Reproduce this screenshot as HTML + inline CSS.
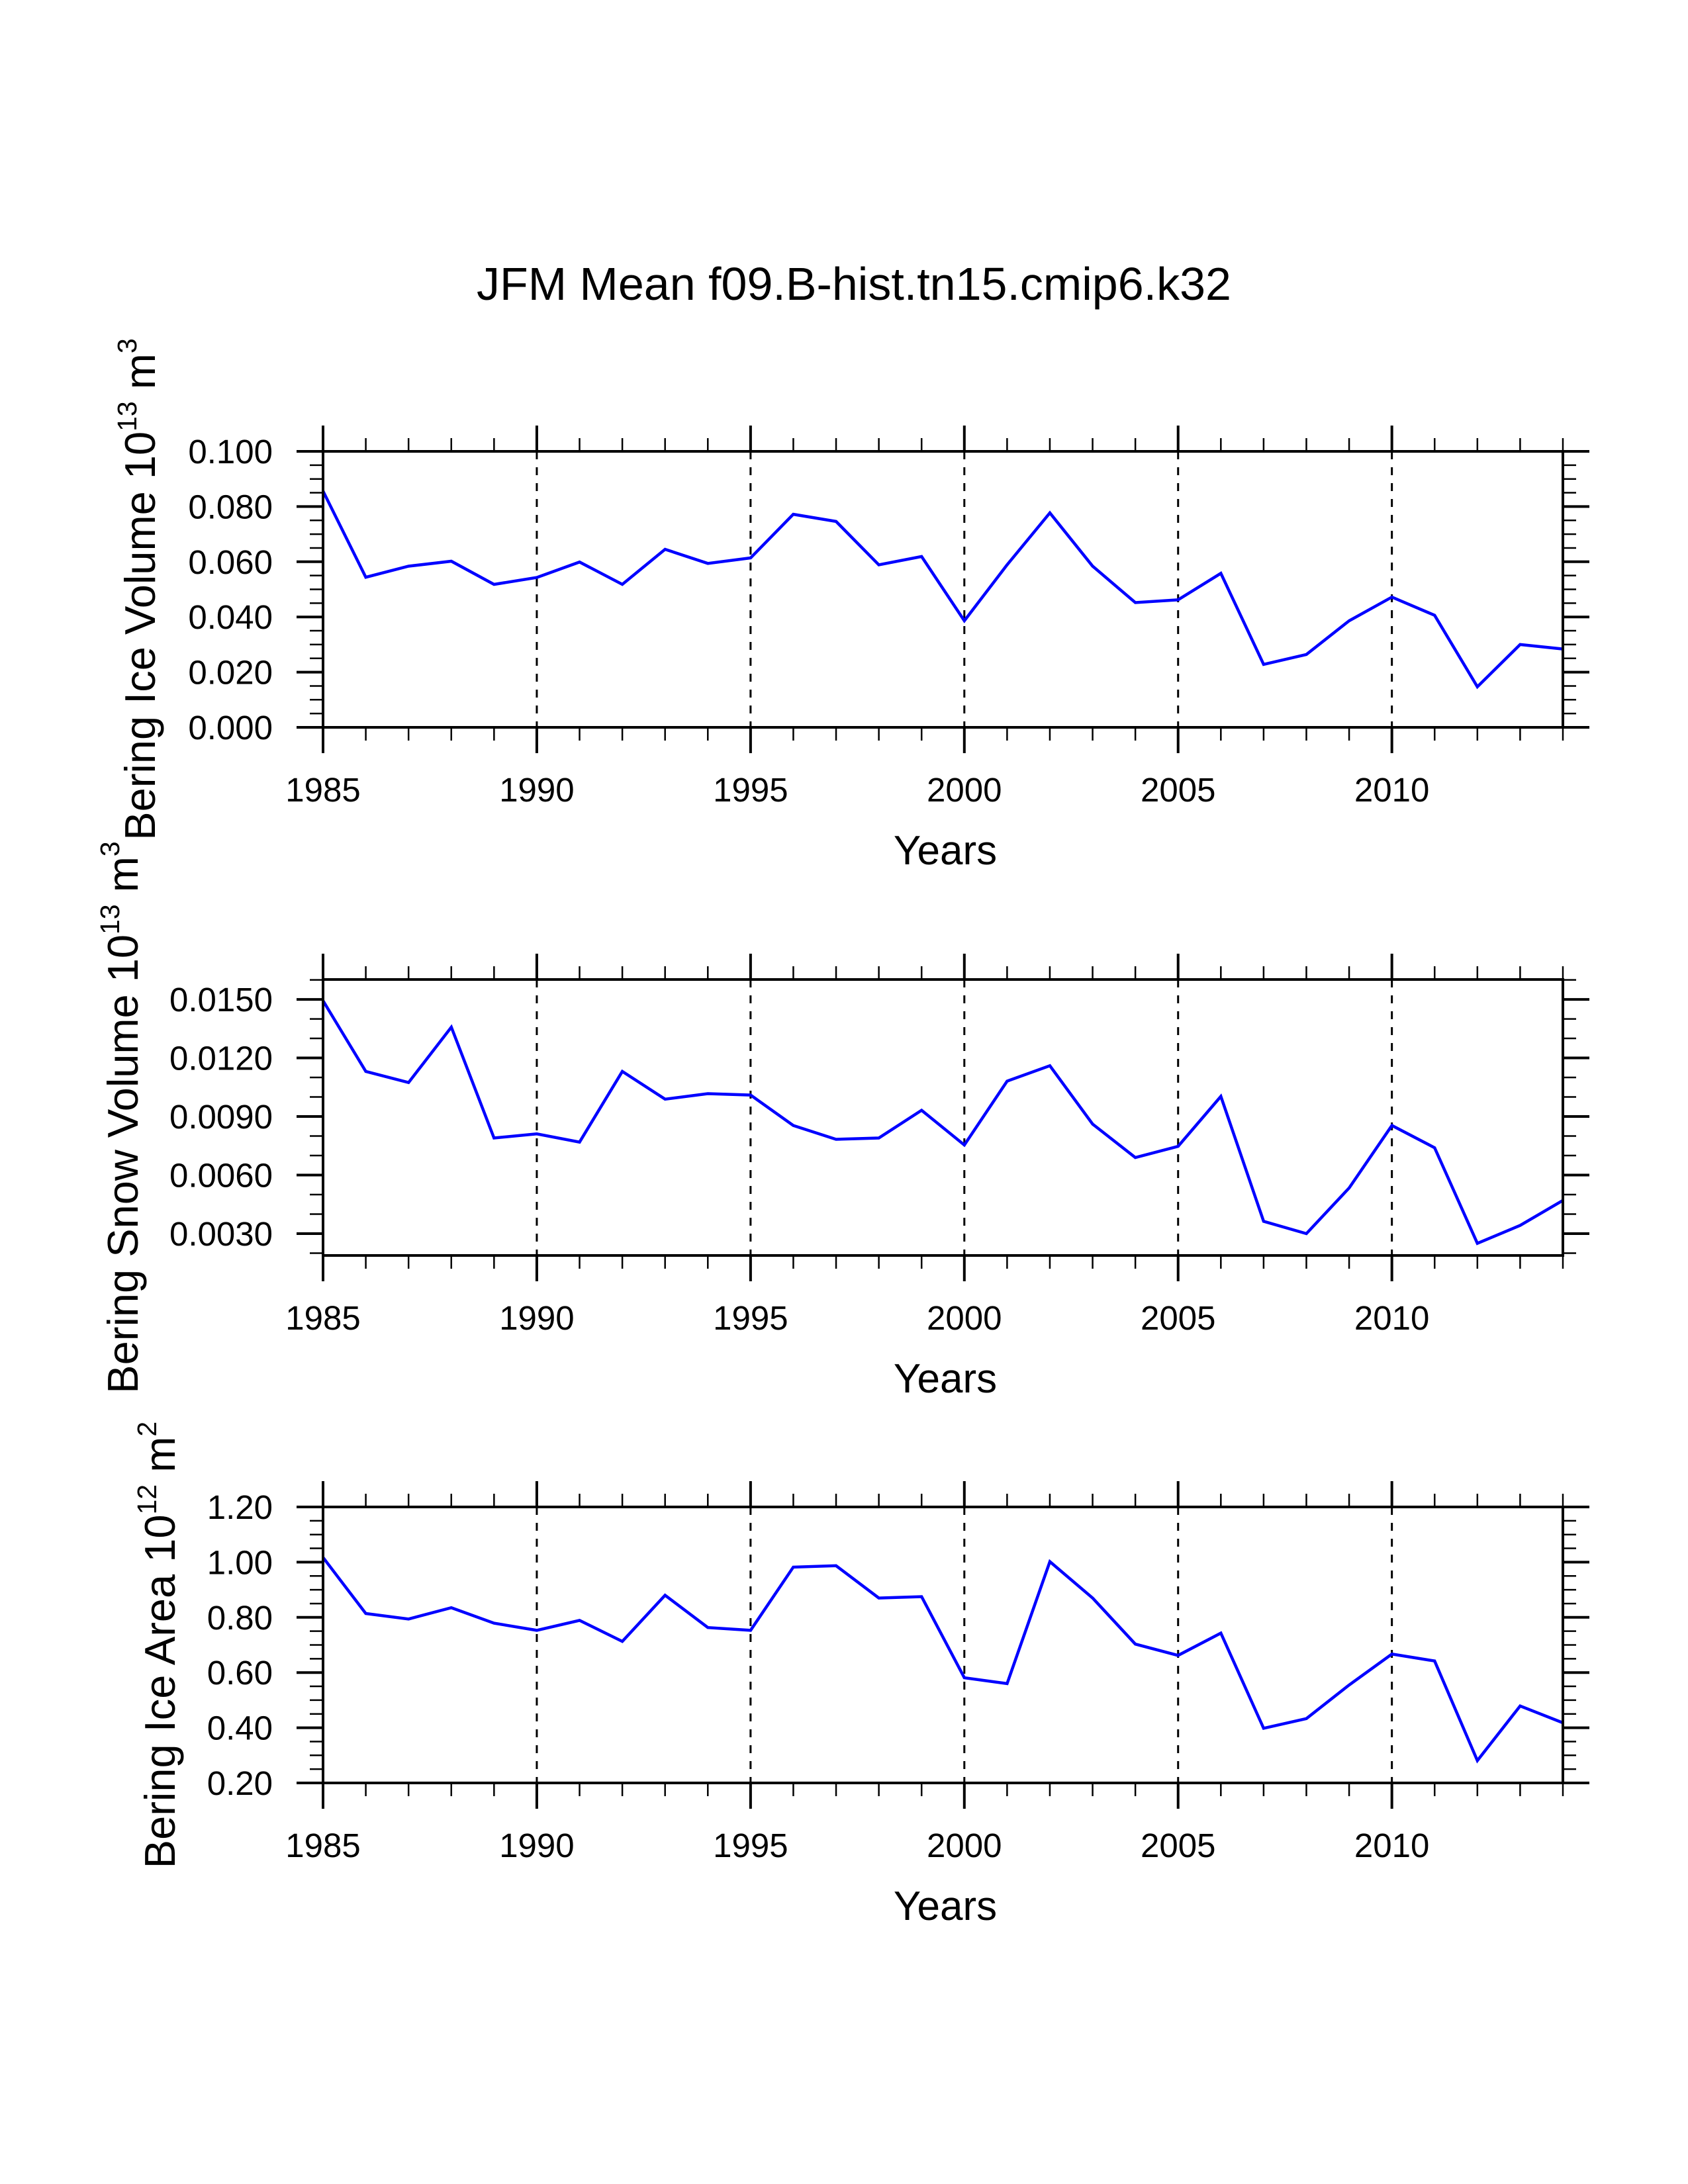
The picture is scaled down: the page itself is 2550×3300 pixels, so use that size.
<!DOCTYPE html>
<html><head><meta charset="utf-8"><style>
html,body{margin:0;padding:0;background:#fff;}
svg{display:block;font-family:"Liberation Sans",sans-serif;}
</style></head><body>
<svg id="chart" width="2550" height="3300" viewBox="0 0 2550 3300" xmlns="http://www.w3.org/2000/svg">
<rect width="2550" height="3300" fill="#fff"/>
<text x="1290" y="453" font-size="70" text-anchor="middle">JFM Mean f09.B-hist.tn15.cmip6.k32</text>
</svg>
<script>
const years = [1985,1986,1987,1988,1989,1990,1991,1992,1993,1994,1995,1996,1997,1998,1999,2000,2001,2002,2003,2004,2005,2006,2007,2008,2009,2010,2011,2012,2013,2014];
const iceVolume = [0.0856,0.0544,0.0584,0.0602,0.0518,0.0543,0.0599,0.0518,0.0645,0.0594,0.0614,0.0772,0.0746,0.0589,0.0619,0.0386,0.0589,0.0777,0.0584,0.0452,0.0462,0.0558,0.0228,0.0264,0.0386,0.0472,0.0406,0.0147,0.0300,0.0284];
const snowVolume = [0.01493,0.01131,0.01074,0.01358,0.0079,0.00811,0.00769,0.01131,0.00989,0.01017,0.0101,0.00854,0.00783,0.0079,0.00932,0.00754,0.01081,0.0116,0.00861,0.0069,0.00747,0.01003,0.00363,0.003,0.00534,0.00854,0.0074,0.0025,0.00342,0.0047];
const iceArea = [1.017,0.814,0.794,0.835,0.779,0.753,0.789,0.713,0.880,0.763,0.753,0.982,0.987,0.870,0.875,0.581,0.560,1.002,0.870,0.703,0.662,0.743,0.398,0.433,0.555,0.667,0.642,0.281,0.479,0.418];
const xTickLabels = ["1985","1990","1995","2000","2005","2010"];
const iceVolTicks = ["0.000","0.020","0.040","0.060","0.080","0.100"];
const snowVolTicks = ["0.0030","0.0060","0.0090","0.0120","0.0150"];
const iceAreaTicks = ["0.20","0.40","0.60","0.80","1.00","1.20"];

const NS="http://www.w3.org/2000/svg";
const svg=document.getElementById('chart');
function mk(tag,attrs,parent){const e=document.createElementNS(NS,tag);for(const k in attrs)e.setAttribute(k,attrs[k]);(parent||svg).appendChild(e);return e;}

const X0=488,X1=2361,H=417;
function xs(yr){return X0+(yr-1985)/(2014-1985)*(X1-X0);}

function panel(top,vals,ymin,ymax,ticks,minorStep,name,labelParts,labelX){
  const g=mk('g',{});
  
  
  const bot=top+H;
  const ys=v=>bot-(v-ymin)/(ymax-ymin)*H;
  for(let yr=1990;yr<=2010;yr+=5){
    const l=mk('line',{x1:xs(yr),x2:xs(yr),y1:top,y2:bot,stroke:'#000','stroke-width':3,'stroke-dasharray':'12,12'},g);
    
    
  }
  for(let yr=1985;yr<=2014;yr++){
    const major=(yr%5===0);const len=major?39:20;const w=major?4:2.5;
    mk('line',{x1:xs(yr),x2:xs(yr),y1:top,y2:top-len,stroke:'#000','stroke-width':w},g);
    mk('line',{x1:xs(yr),x2:xs(yr),y1:bot,y2:bot+len,stroke:'#000','stroke-width':w},g);
  }
  xTickLabels.forEach(t=>{
    const tx=mk('text',{x:xs(+t),y:bot+112,'font-size':51,'text-anchor':'middle'},g);
    tx.textContent=t;
    
    
  });
  const startM=Math.ceil(ymin/minorStep-1e-6);
  for(let k=startM;k*minorStep<=ymax+1e-9;k++){
    const yy=ys(k*minorStep);
    mk('line',{x1:X0,x2:X0-20,y1:yy,y2:yy,stroke:'#000','stroke-width':2.5},g);
    mk('line',{x1:X1,x2:X1+20,y1:yy,y2:yy,stroke:'#000','stroke-width':2.5},g);
  }
  ticks.forEach(t=>{
    const yy=ys(parseFloat(t));
    mk('line',{x1:X0,x2:X0-40,y1:yy,y2:yy,stroke:'#000','stroke-width':4},g);
    mk('line',{x1:X1,x2:X1+40,y1:yy,y2:yy,stroke:'#000','stroke-width':4},g);
    const tx=mk('text',{x:412,y:yy+18,'font-size':51,'text-anchor':'end'},g);
    tx.textContent=t;
    
    
  });
  const pts=vals.map((v,i)=>xs(years[i]).toFixed(1)+','+ys(v).toFixed(1)).join(' ');
  const pl=mk('polyline',{points:pts,fill:'none',stroke:'#0000ff','stroke-width':4.5,'stroke-linejoin':'miter'},g);
  
  
  const fr=mk('rect',{x:X0,y:top,width:X1-X0,height:H,fill:'none',stroke:'#000','stroke-width':4},g);
  
  
  const xt=mk('text',{x:1428,y:bot+207,'font-size':62,'text-anchor':'middle'},g);
  xt.textContent='Years';
  
  
  const cy=top+H/2;
  const yt=mk('text',{x:0,y:0,'font-size':65,'text-anchor':'middle',transform:`translate(${labelX},${cy}) rotate(-90)`},g);
  
  
  const s1=mk('tspan',{},yt);s1.textContent=labelParts[0];
  const s2=mk('tspan',{dy:-28,'font-size':41},yt);s2.textContent=labelParts[1];
  const s3=mk('tspan',{dy:28},yt);s3.textContent=' '+labelParts[2];
  const s4=mk('tspan',{dy:-28,'font-size':41},yt);s4.textContent=labelParts[3];
}
panel(682,iceVolume,0,0.1,iceVolTicks,0.005,'ice-volume',['Bering Ice Volume 10','13','m','3'],234);
panel(1480,snowVolume,0.00188,0.01602,snowVolTicks,0.001,'snow-volume',['Bering Snow Volume 10','13','m','3'],208);
panel(2277,iceArea,0.2,1.2,iceAreaTicks,0.05,'ice-area',['Bering Ice Area 10','12','m','2'],264);
</script>
</body></html>
